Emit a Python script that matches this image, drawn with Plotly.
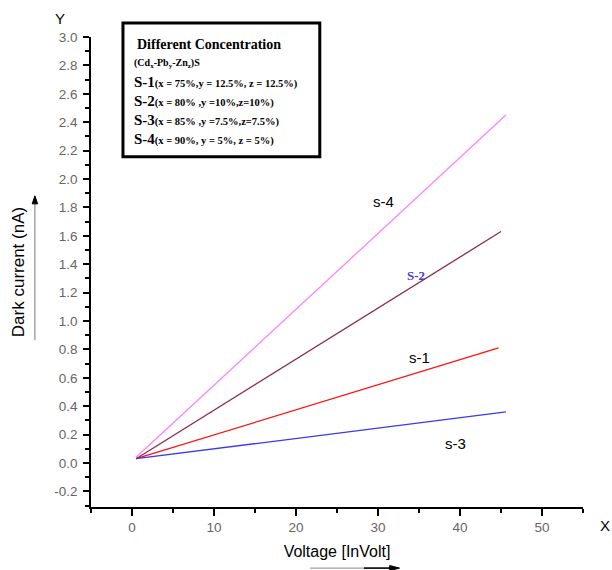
import plotly.graph_objects as go

# ---- data ----
series_names = ["s-4", "S-2", "s-1", "s-3"]
series_colors = ["#FF80FF", "#8E2A48", "#FF1010", "#3A3AE8"]
x_start = [0.5, 0.5, 0.5, 0.5]
x_end = [45.6, 45.0, 44.7, 45.6]
y_start = [0.04, 0.03, 0.03, 0.03]
y_end = [2.45, 1.63, 0.81, 0.36]

label_x = [30.7, 34.6, 35.0, 39.5]
label_y = [1.84, 1.32, 0.74, 0.14]

x_ticks = [0, 10, 20, 30, 40, 50]
x_minor = [-5, 5, 15, 25, 35, 45, 55]
y_ticks = [-0.2, 0.0, 0.2, 0.4, 0.6, 0.8, 1.0, 1.2, 1.4, 1.6, 1.8, 2.0, 2.2, 2.4, 2.6, 2.8, 3.0]
y_tick_text = ["-0.2", "0.0", "0.2", "0.4", "0.6", "0.8", "1.0", "1.2", "1.4", "1.6",
               "1.8", "2.0", "2.2", "2.4", "2.6", "2.8", "3.0"]
y_minor = [-0.3, -0.1, 0.1, 0.3, 0.5, 0.7, 0.9, 1.1, 1.3, 1.5, 1.7, 1.9, 2.1, 2.3, 2.5, 2.7, 2.9]

fig = go.Figure()
for i, name in enumerate(series_names):
    fig.add_trace(go.Scatter(
        x=[x_start[i], x_end[i]], y=[y_start[i], y_end[i]],
        mode="lines", line=dict(color=series_colors[i], width=1.3),
        name=name, showlegend=False))

# series labels
for i, name in enumerate(series_names):
    if name == "S-2":
        font = dict(family="Times New Roman, Liberation Serif, serif", size=13, color="#4040D0")
        txt = "<b>" + name + "</b>"
    else:
        font = dict(family="Arial, Liberation Sans, sans-serif", size=15, color="black")
        txt = name
    fig.add_annotation(x=label_x[i], y=label_y[i], text=txt, showarrow=False,
                       font=font, xanchor="center", yanchor="middle")

# legend box
fig.add_shape(type="rect", xref="paper", yref="paper",
              x0=0.065, x1=0.465, y0=0.745, y1=1.030,
              line=dict(color="black", width=3), fillcolor="white", layer="above")

serif = "Times New Roman, Liberation Serif, serif"
fig.add_annotation(xref="paper", yref="paper", x=0.240, y=0.983,
                   text="<b>Different Concentration</b>", showarrow=False,
                   font=dict(family=serif, size=14, color="black"),
                   xanchor="center", yanchor="middle")
fig.add_annotation(xref="paper", yref="paper", x=0.083, y=0.943,
                   text="<b>(Cd<sub>x</sub>-Pb<sub>y</sub>-Zn<sub>z</sub>)S</b>", showarrow=False,
                   font=dict(family=serif, size=10, color="black"),
                   xanchor="left", yanchor="middle")
legend_lines = [
    ("S-1", "(x = 75%,y = 12.5%, z = 12.5%)"),
    ("S-2", "(x = 80% ,y =10%,z=10%)"),
    ("S-3", "(x = 85% ,y =7.5%,z=7.5%)"),
    ("S-4", "(x = 90%, y = 5%, z = 5%)"),
]
legend_y = [0.904, 0.864, 0.823, 0.783]
for (head, rest), yy in zip(legend_lines, legend_y):
    fig.add_annotation(xref="paper", yref="paper", x=0.083, y=yy,
                       text="<b><span style='font-size:15px'>" + head + "</span>" + rest + "</b>",
                       showarrow=False, font=dict(family=serif, size=10.5, color="black"),
                       xanchor="left", yanchor="middle")

# axis letter labels
fig.add_annotation(xref="paper", yref="paper", x=-0.063, y=1.04, text="Y", showarrow=False,
                   font=dict(family="Arial, Liberation Sans, sans-serif", size=15, color="black"),
                   xanchor="center", yanchor="middle")
fig.add_annotation(xref="paper", yref="paper", x=1.045, y=-0.04, text="X", showarrow=False,
                   font=dict(family="Arial, Liberation Sans, sans-serif", size=15, color="black"),
                   xanchor="center", yanchor="middle")

# arrows beside axis titles (drawn as shapes)
fig.add_shape(type="line", xref="paper", yref="paper",
              x0=-0.114, x1=-0.114, y0=0.355, y1=0.650,
              line=dict(color="#777", width=1))
fig.add_shape(type="path", xref="paper", yref="paper",
              path="M -0.1195 0.645 L -0.1085 0.645 L -0.114 0.662 Z",
              fillcolor="black", line=dict(color="black", width=1))
fig.add_shape(type="line", xref="paper", yref="paper",
              x0=0.445, x1=0.610, y0=-0.130, y1=-0.130,
              line=dict(color="#888", width=1))
fig.add_shape(type="line", xref="paper", yref="paper",
              x0=0.555, x1=0.615, y0=-0.130, y1=-0.130,
              line=dict(color="black", width=1.5))
fig.add_shape(type="path", xref="paper", yref="paper",
              path="M 0.607 -0.1245 L 0.607 -0.1355 L 0.627 -0.130 Z",
              fillcolor="black", line=dict(color="black", width=1))

tickfont = dict(family="Arial, Liberation Sans, sans-serif", size=13.5, color="#666")
fig.update_layout(
    width=612, height=570,
    margin=dict(l=91, r=29, t=37, b=63),
    paper_bgcolor="white", plot_bgcolor="white",
    xaxis=dict(range=[-5, 55], tickmode="array", tickvals=x_ticks,
               ticks="outside", ticklen=7, tickwidth=2, tickcolor="black",
               showline=True, linecolor="black", linewidth=1.5, showgrid=False, zeroline=False,
               tickfont=tickfont,
               minor=dict(tickvals=x_minor, ticks="outside", ticklen=4, tickwidth=2, tickcolor="black"),
               title=dict(text="Voltage [InVolt]", standoff=12,
                          font=dict(family="Arial, Liberation Sans, sans-serif", size=16, color="black"))),
    yaxis=dict(range=[-0.31, 3.0], tickmode="array", tickvals=y_ticks, ticktext=y_tick_text,
               ticks="outside", ticklen=6, tickwidth=2, tickcolor="black",
               showline=True, linecolor="black", linewidth=1.5, showgrid=False, zeroline=False,
               tickfont=tickfont, ticklabelstandoff=3,
               minor=dict(tickvals=y_minor, ticks="outside", ticklen=4, tickwidth=1.5, tickcolor="black"),
               title=dict(text="Dark current (nA)", standoff=25,
                          font=dict(family="Arial, Liberation Sans, sans-serif", size=17, color="black"))),
)

fig.write_html("out.html")
